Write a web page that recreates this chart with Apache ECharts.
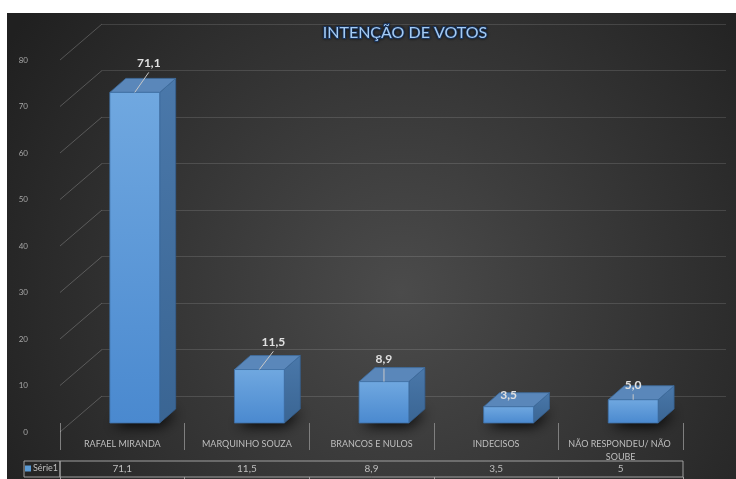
<!DOCTYPE html>
<html>
<head>
<meta charset="utf-8">
<script src="https://cdn.jsdelivr.net/npm/echarts@6/dist/echarts.min.js"></script>
<style>html,body{margin:0;padding:0;background:#fff}#c{width:736px;height:479px}</style>
</head>
<body>
<div id="c"></div>
<script>
const chartTitle = 'INTENÇÃO DE VOTOS';
const seriesName = 'Série1';
const categories = ['RAFAEL MIRANDA', 'MARQUINHO SOUZA', 'BRANCOS E NULOS', 'INDECISOS', 'NÃO RESPONDEU/ NÃO SOUBE'];
const values = [71.1, 11.5, 8.9, 3.5, 5];
const yTicks = [0, 10, 20, 30, 40, 50, 60, 70, 80];

const FONT = "Lato, 'Open Sans', sans-serif";
const fmt1 = v => v.toFixed(1).replace('.', ',');
const fmtRaw = v => String(v).replace('.', ',');

function renderBar(params, api) {
  const i = api.value(0), v = api.value(1);
  const base = api.coord([i, 0]);
  const top = api.coord([i, v]);
  const band = api.size([1, 0])[0];
  const w = band * 0.4;
  const cx = base[0] + band * 0.1;
  const x0 = cx - w / 2, x1 = cx + w / 2;
  const yb = base[1], yt = top[1];
  const dx = 16, dy = -14;
  const h = yb - yt;
  const k = Math.min(15, 0.42 * (h - 22));
  const ly = yt + dy - k;
  const lx = cx + (h > 50 ? 14 : 0);
  const children = [
    {type: 'polygon', shape: {points: [[x0 + 2, yb], [x1, yb], [x1 + dx, yb + dy], [x0 + dx, yb + dy]]},
     style: {fill: '#1a1a1a', shadowBlur: 14, shadowColor: 'rgba(0,0,0,0.95)', shadowOffsetY: 3, shadowOffsetX: 1}},
    {type: 'polygon', shape: {points: [[x1, yt], [x1 + dx, yt + dy], [x1 + dx, yb + dy], [x1, yb]]},
     style: {fill: new echarts.graphic.LinearGradient(0, 0, 0, 1, [{offset: 0, color: '#4a78aa'}, {offset: 1, color: '#3a6593'}]), stroke: '#35608f', lineWidth: 0.8}},
    {type: 'polygon', shape: {points: [[x0, yt], [x0 + dx, yt + dy], [x1 + dx, yt + dy], [x1, yt]]},
     style: {fill: '#5a87ba', stroke: '#3e6c9e', lineWidth: 0.8}},
    {type: 'rect', shape: {x: x0, y: yt, width: w, height: h},
     style: {fill: new echarts.graphic.LinearGradient(0, 0, 0, 1, [{offset: 0, color: '#70a8e0'}, {offset: 1, color: '#4a89cf'}]), stroke: '#3f6fa3', lineWidth: 0.8}},
    {type: 'text', x: lx, y: ly,
     style: {text: fmt1(v), fill: '#e0e0e0', font: "bold 12px " + FONT, align: 'center', verticalAlign: 'middle'}}
  ];
  if (yt - (ly + 9) > 4) {
    children.push({type: 'line', shape: {x1: cx, y1: yt, x2: lx, y2: ly + 9},
      style: {stroke: '#c8c8c8', lineWidth: 1}});
  }
  return {type: 'group', children: children};
}

function renderDiag(params, api) {
  const p = api.coord([0, api.value(1)]);
  return {type: 'line', shape: {x1: p[0] - 42, y1: p[1] + 36, x2: p[0], y2: p[1]},
    style: {stroke: 'rgba(255,255,255,0.22)', lineWidth: 1}};
}

const chart = echarts.init(document.getElementById('c'), null, {renderer: 'canvas'});
const labelColor = '#bfbfbf';
chart.setOption({
  animation: false,
  backgroundColor: '#ffffff',
  title: {
    text: chartTitle, left: 400, top: 20, textAlign: 'center',
    textStyle: {fontFamily: FONT, fontSize: 16, fontWeight: 'normal', color: '#a4cbf3',
      textBorderColor: '#1d3c6b', textBorderWidth: 2, textShadowColor: 'rgba(0,0,0,0.6)', textShadowBlur: 3}
  },
  legend: {
    data: [seriesName], left: 25, top: 464, padding: 0, icon: 'rect', itemWidth: 6, itemHeight: 6, itemGap: 3,
    textStyle: {fontFamily: FONT, fontSize: 9, color: labelColor, padding: [0, 0, 0, -3]}
  },
  graphic: [
    {type: 'rect', z: -100, silent: true, shape: {x: 7, y: 13, width: 729, height: 466},
     style: {fill: new echarts.graphic.RadialGradient(0.54, 0.6, 1.0, [{offset: 0, color: '#4b4b4b'}, {offset: 1, color: '#202020'}])}},
    {type: 'rect', silent: true, shape: {x: 24, y: 461, width: 36, height: 16},
     style: {fill: 'none', stroke: '#a0a0a0', lineWidth: 1}}
  ],
  grid: [
    {left: 60, right: 53, top: 51, height: 372},
    {left: 102, right: 10, top: 24, height: 372},
    {left: 30, width: 26, top: 60, height: 372},
    {left: 60, right: 53, top: 461, height: 16, show: true, borderColor: '#a0a0a0', borderWidth: 1, backgroundColor: 'transparent'}
  ],
  xAxis: [
    {gridIndex: 0, type: 'category', data: categories, offset: 11,
     axisLine: {show: false},
     axisTick: {show: true, interval: 0, length: 27, lineStyle: {color: '#7f7f7f'}},
     axisLabel: {interval: 0, margin: 4, fontFamily: FONT, fontSize: 9, color: labelColor, lineHeight: 13,
       width: 112, overflow: 'break', verticalAlign: 'top'}},
    {gridIndex: 1, type: 'value', min: 0, max: 1, show: false},
    {gridIndex: 2, type: 'value', min: 0, max: 1, show: false},
    {gridIndex: 3, type: 'category', position: 'top', data: values.map(fmtRaw),
     axisLine: {show: false},
     axisTick: {show: true, inside: true, interval: 0, length: 16, lineStyle: {color: '#a0a0a0'}},
     axisLabel: {inside: true, interval: 0, margin: 3, fontFamily: FONT, fontSize: 10, color: labelColor, verticalAlign: 'top'}}
  ],
  yAxis: [
    {gridIndex: 0, type: 'value', min: 0, max: 80, interval: 10, show: false},
    {gridIndex: 1, type: 'value', min: 0, max: 80, interval: 10,
     axisLine: {show: false}, axisTick: {show: false}, axisLabel: {show: false},
     splitLine: {show: true, lineStyle: {color: 'rgba(255,255,255,0.13)', width: 1}}},
    {gridIndex: 2, type: 'value', min: 0, max: 80, interval: 10,
     axisLine: {show: false}, axisTick: {show: false}, splitLine: {show: false},
     axisLabel: {margin: 2, fontFamily: FONT, fontSize: 8, color: '#a6a6a6'}},
    {gridIndex: 3, type: 'value', show: false}
  ],
  series: [
    {type: 'custom', name: 'diag', xAxisIndex: 1, yAxisIndex: 1, silent: true,
     data: yTicks.map(t => [0, t]), renderItem: renderDiag, z: 1},
    {type: 'custom', name: seriesName, xAxisIndex: 0, yAxisIndex: 0,
     itemStyle: {color: '#5b9bd5'},
     data: values.map((v, i) => [i, v]), encode: {x: 0, y: 1}, renderItem: renderBar, z: 3}
  ]
});
</script>
</body>
</html>
